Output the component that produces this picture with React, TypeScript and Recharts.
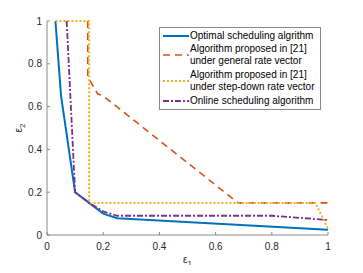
import React from "react"
import { LineChart, Line, XAxis, YAxis, Label } from "recharts"

const ticks = [0, 0.2, 0.4, 0.6, 0.8, 1]
const tickLabels = ["0", "0.2", "0.4", "0.6", "0.8", "1"]

const optimalX = [0.03, 0.05, 0.1, 0.15, 0.2, 0.25, 1]
const optimalY = [1, 0.65, 0.2, 0.15, 0.1, 0.078, 0.025]

const generalX = [0.145, 0.145, 0.18, 0.2, 0.68, 1]
const generalY = [1, 0.74, 0.66, 0.65, 0.15, 0.15]

const stepDownX = [0.03, 0.15, 0.15, 0.955, 1]
const stepDownY = [1, 1, 0.15, 0.15, 0.03]

const onlineX = [0.07, 0.1, 0.15, 0.2, 0.25, 0.8, 1]
const onlineY = [1, 0.2, 0.15, 0.11, 0.09, 0.09, 0.07]

const legendNames = [
  "Optimal scheduling algrithm",
  "Algorithm proposed in [21]\nunder general rate vector",
  "Algorithm proposed in [21]\nunder step-down rate vector",
  "Online scheduling algorithm",
]

const colors = ["#0072BD", "#D95319", "#EDB120", "#7E2F8E"]
const dashes = ["", "7 5", "2 2", "6 2 2 2"]
const widths = [2, 1.6, 2, 1.8]

const zip = (xs: number[], ys: number[]) => xs.map((x, i) => ({ x, y: ys[i] }))
const series = [
  zip(optimalX, optimalY),
  zip(generalX, generalY),
  zip(stepDownX, stepDownY),
  zip(onlineX, onlineY),
]

const FONT = "'Liberation Sans', Arial, sans-serif"
const AX = "#8a8a8a"
const TXT = "#262626"

function XTick(props: any) {
  const { x, y, payload, index, labels } = props
  return (
    <g>
      <line x1={x} x2={x} y1={y - 7} y2={y - 10} stroke={AX} strokeWidth={1} />
      {labels && (
        <text x={x} y={y} dy={8} textAnchor="middle" fontSize={10} fill={TXT} fontFamily={FONT}>
          {tickLabels[index] ?? payload.value}
        </text>
      )}
    </g>
  )
}

function XTickTop(props: any) {
  const { x, y } = props
  return <line x1={x} x2={x} y1={y + 7} y2={y + 10} stroke={AX} strokeWidth={1} />
}

function YTick(props: any) {
  const { x, y, payload, index } = props
  return (
    <g>
      <line x1={x + 5} x2={x + 8} y1={y} y2={y} stroke={AX} strokeWidth={1} />
      <text x={x} y={y} dy={3.5} textAnchor="end" fontSize={10} fill={TXT} fontFamily={FONT}>
        {tickLabels[index] ?? payload.value}
      </text>
    </g>
  )
}

function YTickRight(props: any) {
  const { x, y } = props
  return <line x1={x - 5} x2={x - 8} y1={y} y2={y} stroke={AX} strokeWidth={1} />
}

function LegendBox() {
  const tops = [[36], [49, 61], [75, 87], [101]]
  return (
    <div
      style={{
        position: "absolute",
        left: 159,
        top: 27,
        width: 162,
        height: 83,
        border: `1px solid ${AX}`,
        background: "#fff",
        boxSizing: "border-box",
        fontFamily: FONT,
        fontSize: 10,
        color: "#000",
      }}
    >
      {legendNames.map((name, i) => {
        const lines = name.split("\n")
        const midTop = tops[i].reduce((a, b) => a + b, 0) / tops[i].length
        return (
          <React.Fragment key={i}>
            <svg
              width={28}
              height={6}
              style={{ position: "absolute", left: 2, top: midTop - 27 - 4 }}
            >
              <line
                x1={1}
                x2={27}
                y1={3}
                y2={3}
                stroke={colors[i]}
                strokeWidth={widths[i]}
                strokeDasharray={dashes[i] || undefined}
              />
            </svg>
            {lines.map((t, j) => (
              <div
                key={j}
                style={{
                  position: "absolute",
                  left: 30,
                  top: tops[i][j] - 27 - 7,
                  whiteSpace: "nowrap",
                  lineHeight: "12px",
                }}
              >
                {t}
              </div>
            ))}
          </React.Fragment>
        )
      })}
    </div>
  )
}

export default function App() {
  return (
    <div style={{ position: "relative", margin: -8, width: 363, height: 273, background: "#fff" }}>
      <LineChart width={363} height={273} margin={{ top: 21, right: 35, bottom: 0, left: 0 }}>
        <XAxis
          xAxisId="b"
          type="number"
          dataKey="x"
          domain={[0, 1]}
          ticks={ticks}
          height={38}
          tickSize={0}
          tickMargin={7}
          stroke={AX}
          tickLine={false}
          tick={<XTick labels />}
          allowDuplicatedCategory={false}
        >
          <Label
            content={(p: any) => {
              const vb = p.viewBox
              return (
                <text x={vb.x + vb.width / 2} y={vb.y + 28} textAnchor="middle" fontSize={10} fill={TXT} fontFamily={FONT}>
                  ε<tspan fontSize={8} dy={3}>1</tspan>
                </text>
              )
            }}
          />
        </XAxis>
        <XAxis
          xAxisId="t"
          orientation="top"
          type="number"
          dataKey="x"
          domain={[0, 1]}
          ticks={ticks}
          height={0}
          tickSize={0}
          tickMargin={7}
          stroke={AX}
          tickLine={false}
          tick={<XTickTop />}
        />
        <YAxis
          yAxisId="l"
          type="number"
          domain={[0, 1]}
          ticks={ticks}
          width={47}
          tickSize={0}
          tickMargin={5}
          stroke={AX}
          tickLine={false}
          tick={<YTick />}
        >
          <Label
            content={(p: any) => {
              const vb = p.viewBox
              const cx = 22
              const cy = vb.y + vb.height / 2
              return (
                <text x={cx} y={cy} transform={`rotate(-90 ${cx} ${cy})`} textAnchor="middle" fontSize={10} fill={TXT} fontFamily={FONT}>
                  ε<tspan fontSize={8} dy={3}>2</tspan>
                </text>
              )
            }}
          />
        </YAxis>
        <YAxis
          yAxisId="r"
          orientation="right"
          type="number"
          domain={[0, 1]}
          ticks={ticks}
          width={0}
          tickSize={0}
          tickMargin={5}
          stroke={AX}
          tickLine={false}
          tick={<YTickRight />}
        />
        {series.map((d, i) => (
          <Line
            key={i}
            xAxisId="b"
            yAxisId="l"
            data={d}
            dataKey="y"
            type="linear"
            stroke={colors[i]}
            strokeWidth={widths[i]}
            strokeDasharray={dashes[i] || undefined}
            dot={false}
            activeDot={false}
            isAnimationActive={false}
            name={legendNames[i]}
          />
        ))}
      </LineChart>
      <LegendBox />
    </div>
  )
}
